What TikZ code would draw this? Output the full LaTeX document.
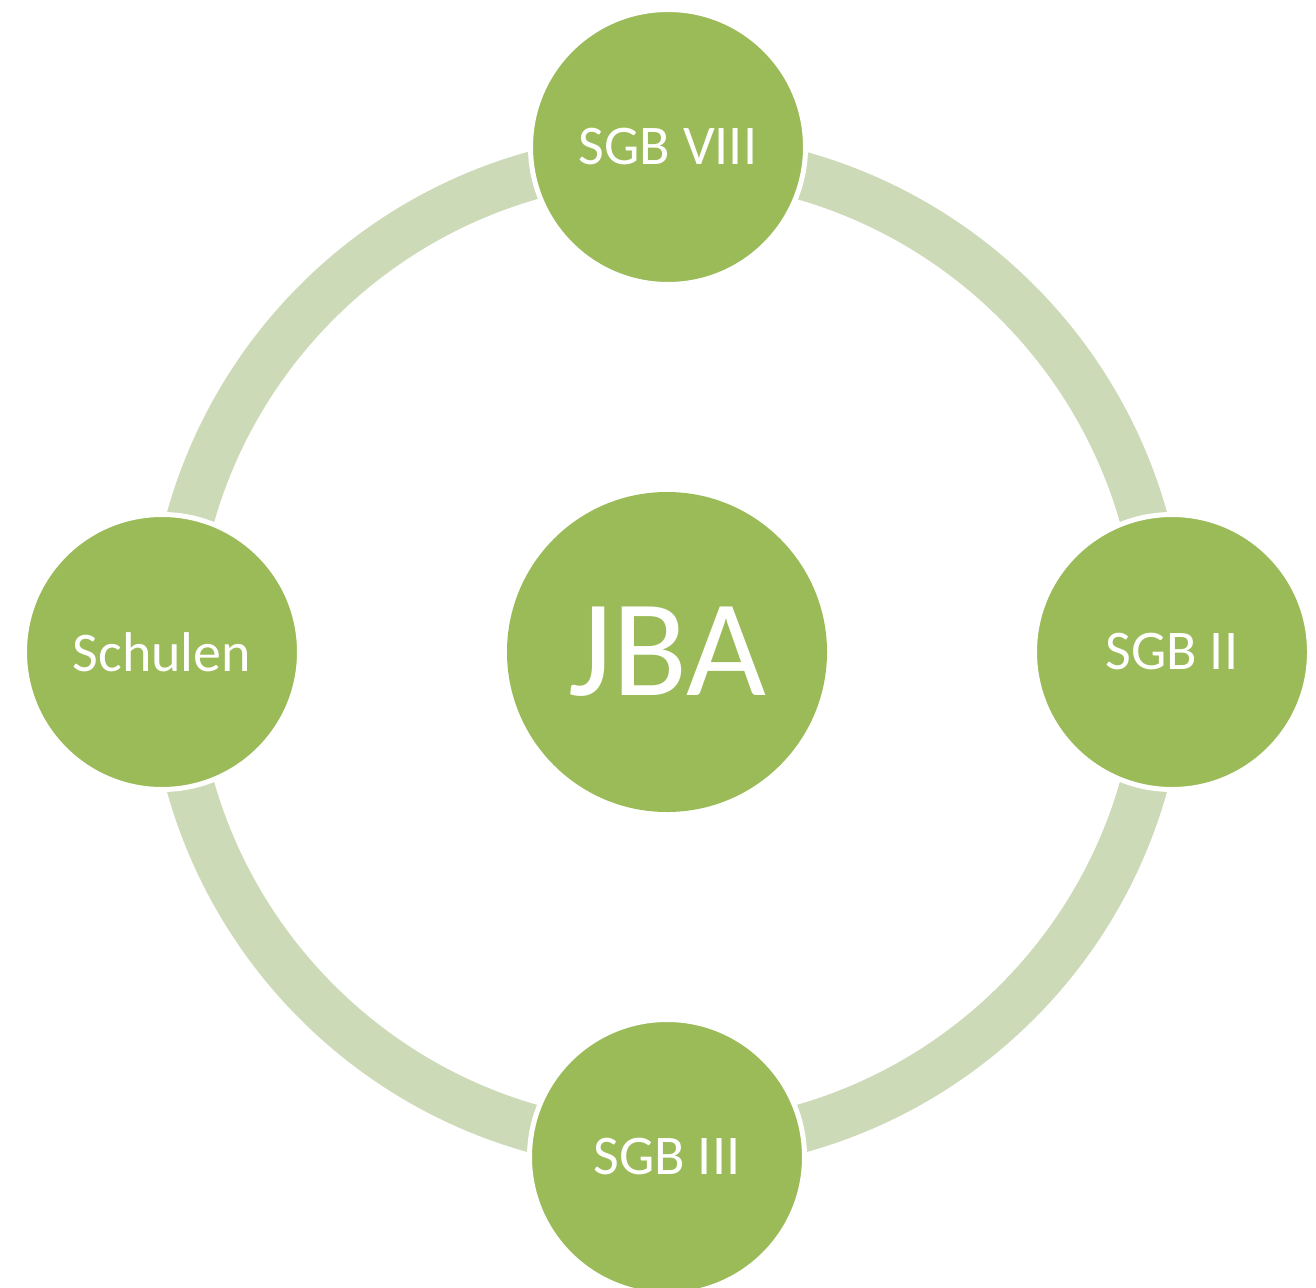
\documentclass[tikz,border=0pt]{standalone}
\usepackage{fontspec}
\setmainfont{Carlito}
\definecolor{olive}{HTML}{9BBB59}
\definecolor{ringc}{HTML}{CDDAB8}
\tikzset{
  outer/.style={circle, fill=olive, draw=white, line width=5pt, minimum size=275pt, inner sep=0pt, text=white, font=\fontsize{56}{60}\selectfont},
  hub/.style={circle, fill=olive, minimum size=320pt, inner sep=0pt, text=white, font=\fontsize{138}{140}\selectfont},
  ringline/.style={draw=ringc, line width=48pt}
}
\begin{document}
\begin{tikzpicture}[x=1pt,y=-1pt]
\useasboundingbox[fill=white] (0,0) rectangle (1316,1287);
\node[hub] (jba) at (667,652) {JBA};
\draw[ringline] (jba.center) circle[radius=495pt];
\node[outer] (top) at (668,147) {SGB VIII};
\node[outer] (right) at (1172,652) {SGB II};
\node[outer] (bottom) at (667,1157) {SGB III};
\node[outer] (left) at (162,652) {Schulen};
\end{tikzpicture}
\end{document}
